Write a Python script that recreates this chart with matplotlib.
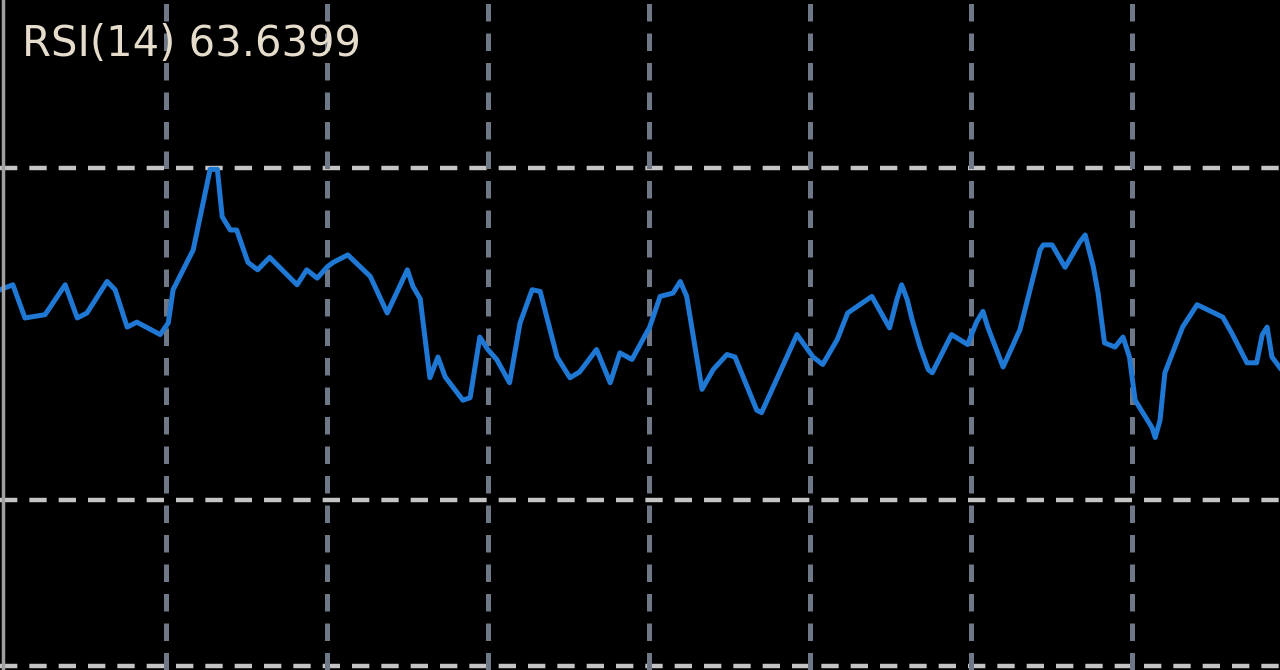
import matplotlib
matplotlib.use("Agg")
import matplotlib.pyplot as plt

# RSI(14) readings, x in bars (grid every 20 bars)
bars = [-0.6, 1.0, 2.5, 5.0, 7.5, 9.0, 10.2, 12.7, 13.7, 15.2, 16.4, 19.3, 20.3, 20.9,
        23.4, 25.5, 26.4, 27.0, 28.0, 28.8, 30.2, 31.4, 32.9, 36.3, 37.5, 38.8, 40.1,
        40.8, 42.6, 45.4, 47.5, 50.0, 50.7, 51.6, 52.8, 53.8, 54.7, 56.9, 57.8, 59.0,
        60.0, 61.1, 62.7, 64.0, 65.5, 66.5, 68.6, 70.2, 71.4, 73.5, 75.2, 76.4, 77.9,
        80.1, 81.4, 83.0, 83.9, 84.7, 86.6, 88.0, 89.7, 90.7, 93.4, 94.0, 98.4, 100.4,
        101.6, 103.4, 104.7, 107.7, 109.9, 110.8, 111.4, 112.1, 112.7, 113.7, 114.7,
        115.2, 117.6, 119.6, 120.7, 121.5, 122.1, 124.0, 126.1, 128.6, 129.0, 130.1,
        131.7, 133.5, 134.2, 135.2, 135.8, 136.6, 137.9, 138.9, 139.7, 140.4, 142.5,
        142.9, 143.5, 144.1, 146.3, 148.1, 151.3, 152.4, 154.3, 155.5, 156.2, 156.8,
        157.4, 158.4]
rsi = [55.3, 55.9, 51.9, 52.3, 55.9, 51.9, 52.5, 56.3, 55.3, 50.8, 51.4, 49.9, 51.3, 55.3,
       60.1, 69.8, 69.8, 64.1, 62.5, 62.5, 58.6, 57.7, 59.2, 55.9, 57.7, 56.7, 58.1,
       58.6, 59.5, 56.9, 52.5, 57.7, 55.7, 54.2, 44.7, 47.2, 44.8, 42.0, 42.3, 49.6,
       48.1, 46.9, 44.1, 51.3, 55.3, 55.1, 47.2, 44.7, 45.4, 48.1, 44.1, 47.7, 46.9,
       50.8, 54.5, 54.9, 56.3, 54.5, 43.3, 45.7, 47.5, 47.2, 40.8, 40.5, 49.9, 47.2,
       46.3, 49.3, 52.5, 54.5, 50.7, 54.1, 55.9, 54.1, 51.7, 48.4, 45.7,
       45.3, 49.9, 48.7, 51.4, 52.7, 50.8, 46.0, 50.5, 60.1, 60.7, 60.7,
       58.0, 61.0, 61.9, 58.1, 54.9, 48.9, 48.4, 49.6, 47.2, 42.0, 38.7,
       37.5, 39.6, 45.3, 50.8, 53.5, 52.0, 50.1, 46.5, 46.5, 49.9, 50.8,
       47.2, 45.9]

levels = [70, 30, 10]
vgrid = [20, 40, 60, 80, 100, 120, 140]
label = "RSI(14) 63.6399"

fig = plt.figure(figsize=(12.8, 6.7), dpi=100, facecolor="black")
ax = fig.add_axes([0, 0, 1, 1])
ax.set_facecolor("black")
ax.set_xlim(-0.6, 158.4)
ax.set_ylim(9.5, 90.2)
ax.axis("off")

# level lines and time grid (dashed, MT4 style)
for lv in levels:
    ax.axhline(lv, color="#c4c4c4", lw=3.2, dashes=(3.9, 2.7), dash_capstyle="butt")
for v in vgrid:
    ax.axvline(v, color="#6e7886", lw=3.6, dashes=(3.5, 2.4), dash_capstyle="butt")

ax.plot(bars, rsi, color="#1f78d4", lw=3.6, solid_joinstyle="round")

# left frame edge
ax.axvline(-0.25, color="#a0a0a0", lw=2.5)

ax.text(0.017, 0.935, label, transform=ax.transAxes, color="#e6dccb",
        fontsize=30, family="DejaVu Sans", va="center", ha="left")

fig.savefig("out.png", dpi=100, facecolor="black")
